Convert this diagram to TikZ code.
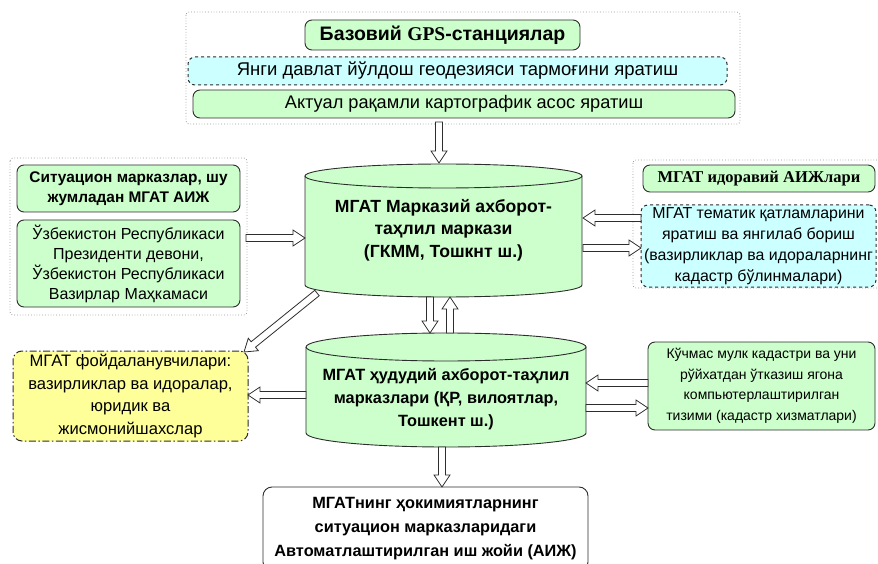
\documentclass[tikz,border=0pt]{standalone}
\usepackage{fontspec}
\setmainfont{Liberation Sans}
\newfontfamily\serifbf{Liberation Serif}
\usepackage{tikz}
\usetikzlibrary{calc}

\definecolor{boxgreen}{RGB}{204,255,204}
\definecolor{boxcyan}{RGB}{204,255,255}
\definecolor{boxyellow}{RGB}{255,255,153}
\definecolor{edge}{RGB}{45,45,45}

% hollow block arrow from #1 to #2
\newcommand\hollowarrow[2]{%
  \coordinate (hb) at ($(#2)!12pt!(#1)$);
  \draw[arrowline] ($(#1)!3.5pt!90:(#2)$) -- ($(hb)!3.5pt!-90:(#1)$) -- ($(hb)!8pt!-90:(#1)$)
    -- (#2) -- ($(hb)!8pt!90:(#1)$) -- ($(hb)!3.5pt!90:(#1)$) -- ($(#1)!3.5pt!-90:(#2)$) -- cycle;}

\tikzset{
  gbox/.style={draw=edge,fill=boxgreen,rounded corners=7pt,line width=0.9pt,align=center,inner sep=2pt},
  cbox/.style={draw=edge,fill=boxcyan,rounded corners=7pt,line width=1pt,dashed,align=center,inner sep=2pt},
  ybox/.style={draw=edge,fill=boxyellow,rounded corners=9pt,line width=1pt,
    dash pattern=on 7pt off 2.5pt on 1.5pt off 2.5pt,align=center,inner sep=2pt},
  wbox/.style={draw=edge,fill=white,rounded corners=9pt,line width=0.9pt,align=center,inner sep=2pt},
  frame/.style={draw=gray!80,dotted,line width=0.8pt,rounded corners=3pt},
  cylfill/.style={fill=boxgreen},
  cylline/.style={draw=edge,line width=0.9pt},
  arrowline/.style={draw=edge,fill=white,line width=0.8pt,line join=miter},
}

\begin{document}
\begin{tikzpicture}[x=1pt,y=1pt]
  \useasboundingbox (0,0) rectangle (878,-564);
  % dotted group frames
  \draw[frame] (186,-12) rectangle (740,-124);
  \draw[frame] (10,-158) rectangle (247,-315);
  \draw[frame] (633,-160) rectangle (884,-288);
  % top group
  \node[gbox,minimum width=275pt,minimum height=30pt,font=\bfseries\fontsize{19.5}{21}\selectfont]
    (gps) at (442.5,-35) {Базовий {\serifbf\bfseries GPS}-станциялар};
  \node[cbox,minimum width=539pt,minimum height=28pt,font=\fontsize{18.5}{20}\selectfont]
    (net) at (457.5,-71) {Янги давлат йўлдош геодезияси тармоғини яратиш};
  \node[gbox,minimum width=542pt,minimum height=28pt,font=\fontsize{18.2}{20}\selectfont]
    (base) at (464,-104) {Актуал рақамли картографик асос яратиш};
  % left group
  \node[gbox,minimum width=223pt,minimum height=47pt,font=\bfseries\fontsize{15.4}{20}\selectfont]
    (sit) at (128.5,-188.5) {Ситуацион марказлар, шу\\жумладан МГАТ АИЖ};
  \node[gbox,minimum width=223pt,minimum height=87pt,font=\fontsize{16}{20}\selectfont]
    (uzb) at (128.5,-263.5) {Ўзбекистон Республикаси\\Президенти девони,\\Ўзбекистон Республикаси\\Вазирлар Маҳкамаси};
  % right group
  \node[gbox,minimum width=232pt,minimum height=27pt,font=\serifbf\bfseries\fontsize{16.5}{18}\selectfont]
    (idor) at (759,-178.5) {МГАТ идоравий АИЖлари};
  \node[cbox,minimum width=235pt,minimum height=82pt,font=\fontsize{15.9}{21}\selectfont]
    (tem) at (758.5,-246) {МГАТ тематик қатламларини\\яратиш ва янгилаб бориш\\(вазирликлар ва идораларнинг\\кадастр бўлинмалари)};
  % users and cadastre
  \node[ybox,minimum width=235pt,minimum height=90pt,font=\fontsize{16.6}{22.5}\selectfont]
    (users) at (130.5,-396) {МГАТ фойдаланувчилари:\\вазирликлар ва идоралар,\\юридик ва\\жисмонийшахслар};
  \node[gbox,minimum width=227pt,minimum height=88pt,font=\fontsize{14}{20.5}\selectfont]
    (cad) at (761.5,-386) {Кўчмас мулк кадастри ва уни\\рўйхатдан ўтказиш ягона\\компьютерлаштирилган\\тизими (кадастр хизматлари)};
  \node[wbox,minimum width=325pt,minimum height=84pt,font=\bfseries\fontsize{16.3}{24}\selectfont]
    (aij) at (425.5,-529) {МГАТнинг ҳокимиятларнинг\\ситуацион марказларидаги\\Автоматлаштирилган иш жойи (АИЖ)};
  % central cylinder
  \fill[cylfill] (305,-176) -- (305,-285) arc[start angle=180,end angle=360,x radius=138.5,y radius=12]
    -- (582,-176) arc[start angle=0,end angle=180,x radius=138.5,y radius=12] -- cycle;
  \draw[cylline] (305,-176) -- (305,-285) arc[start angle=180,end angle=360,x radius=138.5,y radius=12] -- (582,-176);
  \draw[cylline] (443.5,-176) ellipse[x radius=138.5,y radius=12];
  \node[align=center,font=\bfseries\fontsize{17.6}{22.5}\selectfont]
    (ctr) at (443.5,-230) {МГАТ Марказий ахборот-\\таҳлил маркази\\(ГКММ, Тошкнт ш.)};
  % regional cylinder
  \fill[cylfill] (306,-347) -- (306,-433) arc[start angle=180,end angle=360,x radius=140,y radius=14]
    -- (586,-347) arc[start angle=0,end angle=180,x radius=140,y radius=14] -- cycle;
  \draw[cylline] (306,-347) -- (306,-433) arc[start angle=180,end angle=360,x radius=140,y radius=14] -- (586,-347);
  \draw[cylline] (446,-347) ellipse[x radius=140,y radius=14];
  \node[align=center,font=\bfseries\fontsize{16.3}{23}\selectfont]
    (reg) at (446,-399) {МГАТ ҳудудий ахборот-таҳлил\\марказлари (ҚР, вилоятлар,\\Тошкент ш.)};
  % arrow ends
  \coordinate (A1) at (439,-122);  \coordinate (B1) at (439,-163);
  \coordinate (A2) at (246,-238);  \coordinate (B2) at (305,-238);
  \coordinate (A3) at (641,-218);  \coordinate (B3) at (583,-218);
  \coordinate (A4) at (583,-248);  \coordinate (B4) at (641,-248);
  \coordinate (A5) at (317,-293);  \coordinate (B5) at (244,-352);
  \coordinate (A6) at (430,-297);  \coordinate (B6) at (430,-333);
  \coordinate (A7) at (450,-333);  \coordinate (B7) at (450,-297);
  \coordinate (A8) at (306,-395);  \coordinate (B8) at (248,-395);
  \coordinate (A9) at (648,-383);  \coordinate (B9) at (586,-383);
  \coordinate (A10) at (586,-408); \coordinate (B10) at (648,-408);
  \coordinate (A11) at (442,-447); \coordinate (B11) at (442,-487);
  \hollowarrow{A1}{B1}
  \hollowarrow{A2}{B2}
  \hollowarrow{A3}{B3}
  \hollowarrow{A4}{B4}
  \hollowarrow{A5}{B5}
  \hollowarrow{A6}{B6}
  \hollowarrow{A7}{B7}
  \hollowarrow{A8}{B8}
  \hollowarrow{A9}{B9}
  \hollowarrow{A10}{B10}
  \hollowarrow{A11}{B11}
\end{tikzpicture}
\end{document}
